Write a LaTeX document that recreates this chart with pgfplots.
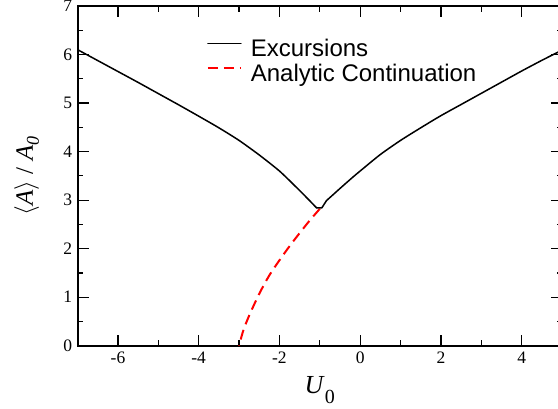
\documentclass[border=0pt]{standalone}
\usepackage{fontspec}
\setmainfont{Liberation Serif}
\newfontfamily\arial{Liberation Sans}
\usepackage{pgfplots}
\pgfplotsset{compat=1.18}
\begin{document}
\begin{tikzpicture}[x=1pt,y=1pt]
\begin{axis}[
  at={(77.6pt,63.3pt)}, anchor=south west,
  scale only axis, width=484.4pt, height=339.7pt,
  xmin=-7, xmax=5, ymin=0, ymax=7,
  xtick={-6,-4,-2,0,2,4}, xticklabels={-6,-4,-2,0,2,4},
  ytick={0,1,2,3,4,5,6,7}, yticklabels={0,1,2,3,4,5,6,7},
  minor xtick={-7,-5,-3,-1,1,3,5},
  minor ytick={0.5,1.5,2.5,3.5,4.5,5.5,6.5},
  xtick pos=both, ytick pos=both,
  tick align=inside,
  major tick length=11pt, minor tick length=5.5pt,
  axis line style={line width=2pt},
  major tick style={line width=1.2pt, black},
  minor tick style={line width=1.2pt, black},
  tick label style={font=\fontsize{17.5}{20}\selectfont},
  xticklabel style={yshift=-3pt},
  yticklabel style={xshift=-2pt},
  xlabel={\fontsize{26}{28}\selectfont\textit{U}\raisebox{-10pt}{\fontsize{20}{20}\selectfont 0}},
  xlabel style={at={(axis description cs:0.5,-0.1422)}, anchor=base},
  ylabel={\fontsize{25}{28}\selectfont$\langle$\textit{A}$\rangle$ / \textit{A}\raisebox{-6pt}{\fontsize{18}{18}\selectfont\textit{0}}},
  ylabel style={at={(axis description cs:-0.0921,0.5)}, anchor=base, rotate=0},
  legend style={draw=none, fill=none, at={(axis description cs:0.2665,0.9029)}, anchor=north west,
    inner sep=0pt, column sep=9pt,
    font=\arial\fontsize{24}{26}\selectfont,
    nodes={inner sep=0pt, text height=17pt, text depth=8pt}},
  legend cell align=left,
  legend image code/.code={\draw[#1] (0pt,8.2pt) -- (33pt,8.2pt);},
]
\addplot[black, line width=1.5pt, smooth, tension=0.4, line cap=round] coordinates {
(-7,6.10) (-6.5,5.875) (-6,5.65) (-5.5,5.425) (-5,5.195) (-4.5,4.965) (-4,4.73)
(-3.5,4.49) (-3,4.23) (-2.5,3.93) (-2,3.60) (-1.6,3.28) (-1.3,3.03) (-1.08,2.84)
};
\addlegendentry{Excursions}
\addplot[red, line width=2pt, dash pattern=on 10pt off 6pt, smooth, tension=0.5] coordinates {
(-1.0,2.82) (-1.25,2.58) (-1.5,2.32) (-1.75,2.05) (-2.0,1.76) (-2.25,1.45) (-2.5,1.07) (-2.75,0.62) (-2.9,0.30) (-3.0,0.0)
};
\addlegendentry{Analytic Continuation}
\addplot[black, line width=1.5pt, line cap=round, line join=round, forget plot] coordinates {
(-1.08,2.84) (-0.95,2.84) (-0.834,2.99)};
\addplot[black, line width=1.5pt, smooth, tension=0.4, line cap=round, forget plot] coordinates {
(-0.834,2.99) (-0.7,3.09) (-0.5,3.24) (-0.2,3.46) (0,3.60) (0.5,3.94) (1,4.23) (1.5,4.49)
(2,4.74) (2.5,4.97) (3,5.20) (3.5,5.43) (4,5.66) (4.5,5.88) (5,6.09)
};
\end{axis}
\pgfresetboundingbox
\path[use as bounding box] (0,0) rectangle (558,409);
\end{tikzpicture}
\end{document}
